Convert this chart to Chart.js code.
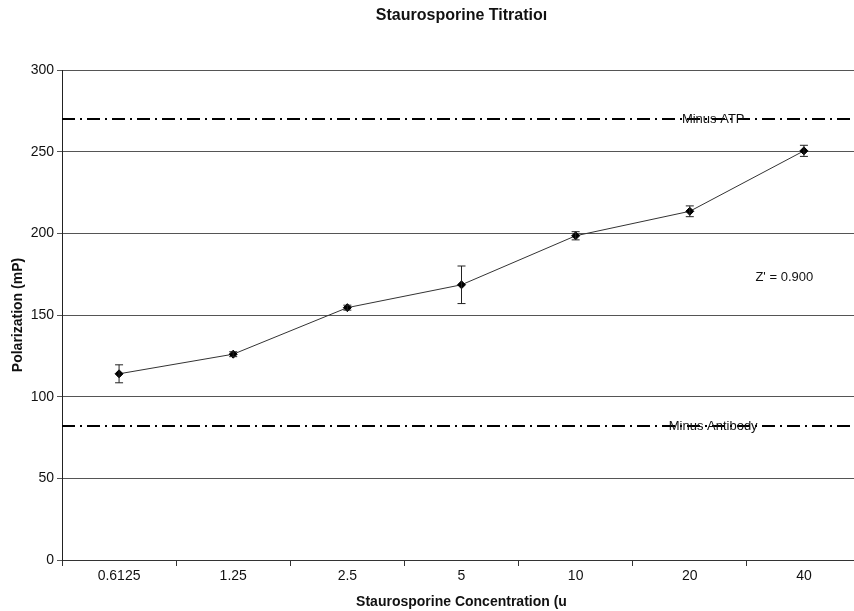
<!DOCTYPE html>
<html>
<head>
<meta charset="utf-8">
<script src="https://cdn.jsdelivr.net/npm/chart.js@4.4.1/dist/chart.umd.min.js"></script>
<style>
  html, body { margin: 0; padding: 0; background: #fff; overflow: hidden; }
  /* plot area of the original runs a little past the right edge of the picture */
  #wrap { width: 854px; height: 611px; overflow: hidden; }
</style>
</head>
<body>
<div id="wrap"><canvas id="chart-titration" width="866" height="611"></canvas></div>
<script>
// staurosporine concentrations (x categories)
const concLabels = ['0.6125', '1.25', '2.5', '5', '10', '20', '40'];
// mean polarization (mP) and error
const polarization = [114, 126, 154.5, 168.5, 198.5, 213.5, 250.5];
const polarizationErr = [5.5, 1.5, 1.5, 11.5, 2.5, 3.3, 3.4];
// control levels
const minusAtp = 270;
const minusAntibody = 82;
const zPrimeText = "Z' = 0.900";

const FONT = "'Liberation Sans', Arial, sans-serif";

// error bars drawn from the y scale
const errorBars = {
    id: 'errorBars',
    afterDatasetsDraw(chart) {
        let ctx = chart.ctx;
        let y = chart.scales.y;
        let meta = chart.getDatasetMeta(0);
        ctx.save();
        ctx.strokeStyle = '#222';
        ctx.lineWidth = 1;
        meta.data.forEach((pt, i) => {
            let top = y.getPixelForValue(polarization[i] + polarizationErr[i]);
            let bot = y.getPixelForValue(polarization[i] - polarizationErr[i]);
            ctx.beginPath();
            ctx.moveTo(pt.x, top); ctx.lineTo(pt.x, bot);
            ctx.moveTo(pt.x - 4, top); ctx.lineTo(pt.x + 4, top);
            ctx.moveTo(pt.x - 4, bot); ctx.lineTo(pt.x + 4, bot);
            ctx.stroke();
        });
        ctx.restore();
    }
};

// text labels on the control lines + Z' note
const noteText = {
    id: 'noteText',
    afterDatasetsDraw(chart) {
        let ctx = chart.ctx;
        let x2 = chart.scales.x2;
        let y = chart.scales.y;
        ctx.save();
        ctx.fillStyle = '#111';
        ctx.textAlign = 'center';
        ctx.textBaseline = 'middle';
        ctx.font = '13px ' + FONT;
        ctx.fillText('Minus ATP', x2.getPixelForValue(0.815), y.getPixelForValue(minusAtp));
        ctx.fillText('Minus Antibody', x2.getPixelForValue(0.815), y.getPixelForValue(minusAntibody));
        ctx.fillText(zPrimeText, x2.getPixelForValue(0.904), y.getPixelForValue(173));
        ctx.restore();
    }
};

let ctxc = document.getElementById('chart-titration').getContext('2d');
let titrationChart = new Chart(ctxc, {
    type: 'line',
    data: {
        labels: concLabels,
        datasets: [{
            label: 'Polarization',
            data: polarization,
            borderColor: '#333',
            borderWidth: 1,
            pointStyle: 'rectRot',
            pointRadius: 4,
            pointBackgroundColor: '#000',
            pointBorderColor: '#000',
            tension: 0
        }, {
            label: 'Minus ATP',
            xAxisID: 'x2',
            data: [{ x: 0, y: minusAtp }, { x: 1, y: minusAtp }],
            borderColor: '#000',
            borderWidth: 2,
            borderDash: [13, 5, 2, 5],
            pointRadius: 0
        }, {
            label: 'Minus Antibody',
            xAxisID: 'x2',
            data: [{ x: 0, y: minusAntibody }, { x: 1, y: minusAntibody }],
            borderColor: '#000',
            borderWidth: 2,
            borderDash: [13, 5, 2, 5],
            pointRadius: 0
        }]
    },
    options: {
        responsive: false,
        animation: false,
        layout: { padding: { top: 0, right: 0, left: 0, bottom: 0 } },
        plugins: {
            legend: { display: false },
            tooltip: { enabled: false },
            title: { display: false }
        },
        scales: {
            x: {
                type: 'category',
                offset: true,
                grid: { display: true, drawOnChartArea: false, offset: true, color: '#333', tickLength: 6 },
                border: { display: true, color: '#333', width: 1 },
                ticks: { color: '#111', font: { family: FONT, size: 14 }, maxRotation: 0, padding: 2 },
                title: {
                    display: true,
                    text: 'Staurosporine Concentration (u',
                    color: '#111',
                    font: { family: FONT, size: 14, weight: 'bold' },
                    padding: { top: 5, bottom: 0 }
                },
                afterFit(s) { s.height = 51; }
            },
            // helper axis for the control lines; its title carries the chart title
            x2: {
                type: 'linear',
                position: 'top',
                min: 0,
                max: 1,
                display: true,
                ticks: { display: false },
                grid: { display: false },
                border: { display: false },
                title: {
                    display: true,
                    text: 'Staurosporine Titratioı',
                    color: '#111',
                    font: { family: FONT, size: 16, weight: 'bold' },
                    padding: { top: 6, bottom: 0 }
                },
                afterFit(s) { s.height = 70; }
            },
            y: {
                min: 0,
                max: 300,
                ticks: { stepSize: 50, color: '#111', font: { family: FONT, size: 14 }, padding: 3 },
                grid: { color: '#555', lineWidth: 1, tickLength: 5 },
                border: { display: true, color: '#222', width: 1 },
                title: {
                    display: true,
                    text: 'Polarization (mP)',
                    color: '#111',
                    font: { family: FONT, size: 14, weight: 'bold' },
                    padding: { top: 10, bottom: 0 }
                },
                afterFit(s) { s.width = 62; }
            }
        }
    },
    plugins: [errorBars, noteText]
});
</script>
</body>
</html>
